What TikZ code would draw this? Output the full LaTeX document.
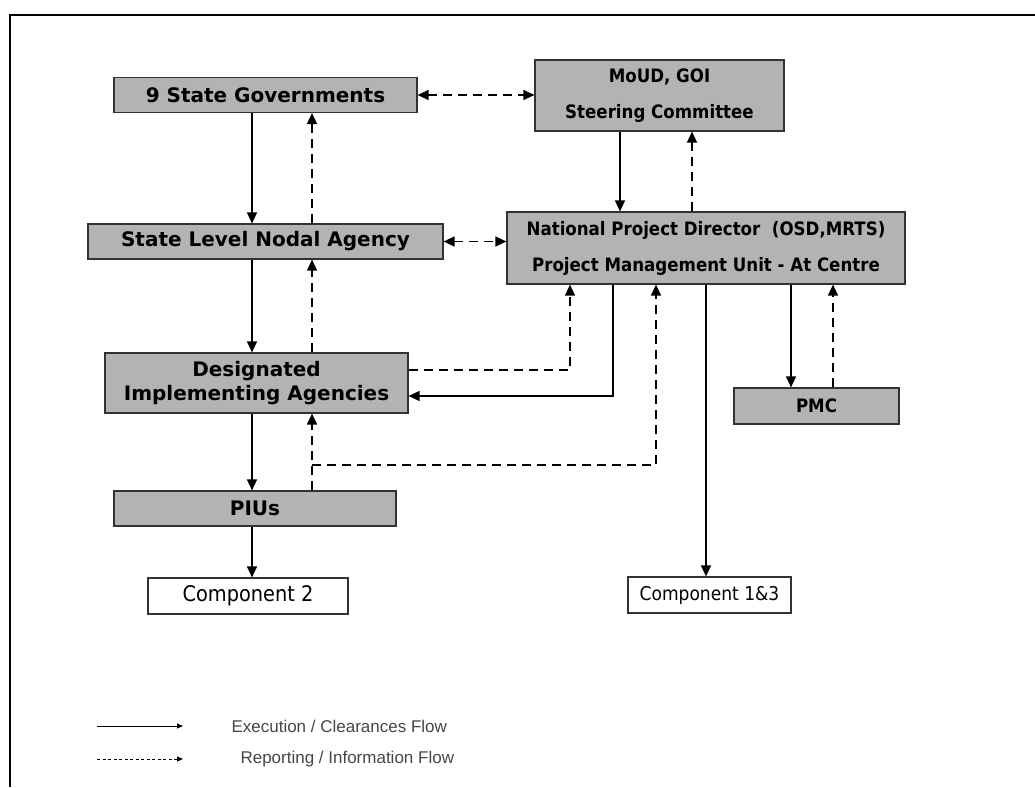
\documentclass[tikz,border=0pt]{standalone}
\usepackage{fontspec}
\setmainfont{DejaVu Sans}
\newfontfamily\condfont{DejaVu Sans Condensed}
\newfontfamily\legendfont{Liberation Sans}
\usepackage{xcolor}
\usepackage{tikz}
\usetikzlibrary{arrows.meta}
\definecolor{boxgray}{RGB}{179,179,179}
\definecolor{edgegray}{RGB}{50,50,50}
\definecolor{legendgray}{RGB}{70,70,70}
\tikzstyle{statebox} = [rectangle, 
minimum height=35pt, 
text centered, 
align=center, 
draw=edgegray, line width=1.2pt, 
fill=boxgray, 
font=\fontsize{20}{24}\selectfont\bfseries]
\tikzstyle{centrebox} = [rectangle, 
text centered, 
align=center, 
draw=edgegray, line width=1.2pt, 
fill=boxgray, 
font=\condfont\fontsize{18.5}{36}\selectfont\bfseries]
\tikzstyle{compbox} = [rectangle, 
minimum height=36pt, 
text centered, 
inner sep=2pt, 
draw=edgegray, line width=1.2pt, 
fill=white, 
font=\condfont\fontsize{21.5}{24}\selectfont]
\tikzstyle{legendtext} = [anchor=west, text=legendgray, font=\legendfont\fontsize{17}{20}\selectfont]
\tikzstyle{arrow} = [line width=1.5pt,-{Triangle[length=11pt,width=10pt]}]
\tikzstyle{dasharrow} = [arrow, dash pattern=on 9pt off 6pt]
\tikzstyle{twoway} = [dasharrow, {Triangle[length=11pt,width=10pt]}-{Triangle[length=11pt,width=10pt]}]
\tikzstyle{legendarrow} = [line width=1pt,-{Triangle[length=6pt,width=5pt]}]

\begin{document}
\begin{tikzpicture}[x=1pt,y=-1pt]
\useasboundingbox (0,0) rectangle (1035,787);
\draw [line width=2.5pt] (10,787) -- (10,15) -- (1035,15);

% State side
\node (sg) [statebox, minimum width=303pt] at (265.5,95) {9 State Governments};
\node (slna) [statebox, minimum width=355pt] at (265.5,241.5) {State Level Nodal Agency};
\node (dia) [statebox, minimum width=303pt, minimum height=60pt] at (256.5,383) {Designated\\Implementing Agencies};
\node (pius) [statebox, minimum width=282pt] at (255,508.5) {PIUs};
\node (comp2) [compbox, minimum width=200pt] at (248,596) {Component 2};

% Centre side
\node (moud) [centrebox, minimum width=249pt, minimum height=71pt] at (659.5,95.5) {MoUD, GOI\\Steering Committee};
\node (npd) [centrebox, minimum width=398pt, minimum height=72pt] at (706,248) {National Project Director~~(OSD,MRTS)\\Project Management Unit - At Centre};
\node (pmc) [centrebox, minimum width=165pt, minimum height=36pt] at (816.5,406) {PMC};
\node (comp13) [compbox, minimum width=163pt, font=\condfont\fontsize{19}{24}\selectfont] at (709.5,595) {Component 1\&3};

% Columns of the connectors
\coordinate (down) at (252,0);
\coordinate (up) at (312,0);
\coordinate (iareport) at (570,0);
\coordinate (iaorder) at (613,0);
\coordinate (smcdown) at (620,0);
\coordinate (piureport) at (656,0);
\coordinate (smcup) at (692,0);
\coordinate (pmcdown) at (791,0);
\coordinate (pmcup) at (833,0);
\coordinate (piubranch) at (312,465);

\draw [twoway] (sg.east) -- (sg.east -| moud.west);
\draw [twoway] (slna.east) -- (slna.east -| npd.west);

\draw [arrow] (down |- sg.south) -- (down |- slna.north);
\draw [dasharrow] (up |- slna.north) -- (up |- sg.south);
\draw [arrow] (down |- slna.south) -- (down |- dia.north);
\draw [dasharrow] (up |- dia.north) -- (up |- slna.south);
\draw [arrow] (down |- dia.south) -- (down |- pius.north);
\draw [dasharrow] (up |- pius.north) -- (up |- dia.south);
\draw [arrow] (down |- pius.south) -- (down |- comp2.north);
\draw [dasharrow] (piubranch) -| (piureport |- npd.south);

\draw [dasharrow] ([yshift=13pt]dia.east) -| (iareport |- npd.south);
\draw [arrow] (iaorder |- npd.south) |- ([yshift=-13pt]dia.east);

\draw [arrow] (smcdown |- moud.south) -- (smcdown |- npd.north);
\draw [dasharrow] (smcup |- npd.north) -- (smcup |- moud.south);
\draw [arrow] (npd.south) -- (npd.south |- comp13.north);
\draw [arrow] (pmcdown |- npd.south) -- (pmcdown |- pmc.north);
\draw [dasharrow] (pmcup |- pmc.north) -- (pmcup |- npd.south);

% Legend
\coordinate (execstart) at (97,726);
\coordinate (execend) at (183,726);
\coordinate (repstart) at (97,759);
\coordinate (repend) at (183,759);
\node (exec) [legendtext] at (228,726) {Execution / Clearances Flow};
\node (rep) [legendtext] at (237,759) {Reporting / Information Flow};
\draw [legendarrow] (execstart) -- (execend);
\draw [legendarrow, dash pattern=on 3pt off 2.5pt] (repstart) -- (repend);

\end{tikzpicture}
\end{document}
